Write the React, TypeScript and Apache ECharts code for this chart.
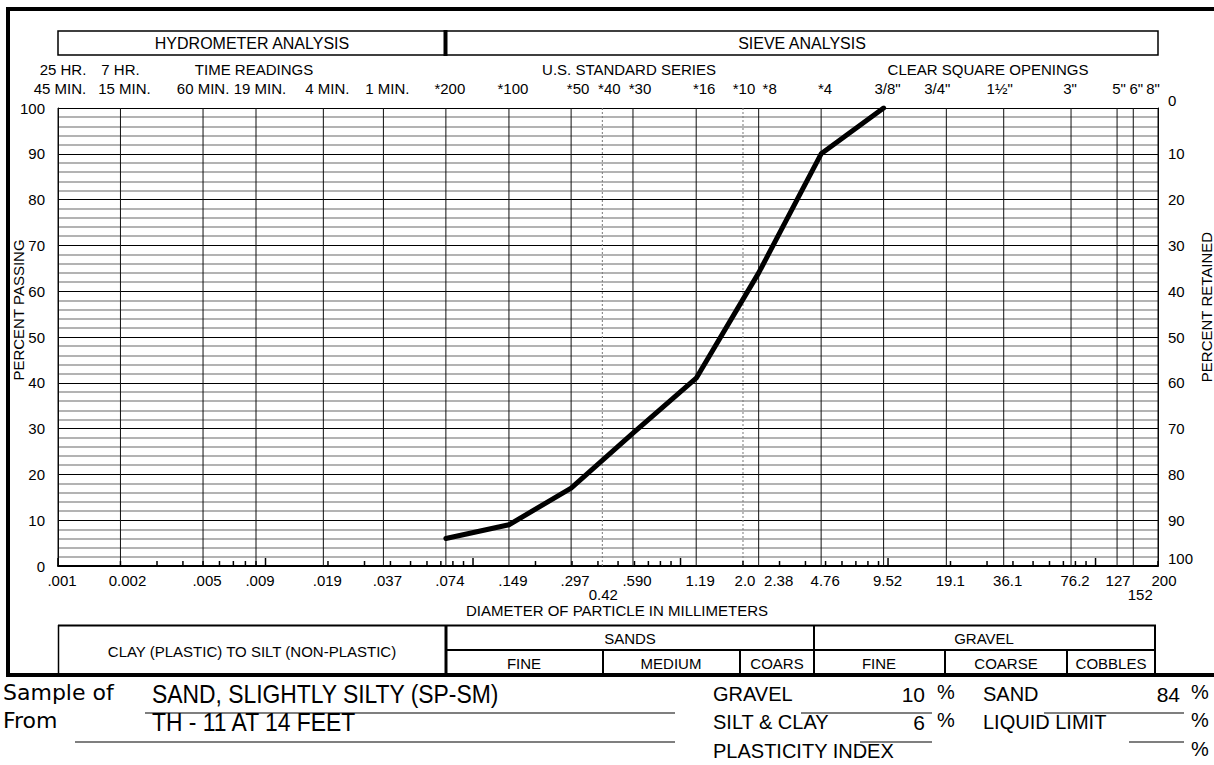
import React, { useEffect, useRef } from 'react';
import * as echarts from 'echarts';

// ---------------- data ----------------
const gridSizes = [0.001, 0.002, 0.005, 0.009, 0.019, 0.037, 0.074, 0.149, 0.297, 0.42, 0.59, 1.19, 2.0, 2.38, 4.76, 9.52, 19.1, 36.1, 76.2, 127, 152, 200];
const gridBottomLabels = ['.001', '0.002', '.005', '.009', '.019', '.037', '.074', '.149', '.297', '0.42', '.590', '1.19', '2.0', '2.38', '4.76', '9.52', '19.1', '36.1', '76.2', '127', '152', '200'];
const gridTopLabels = ['45 MIN.', '15 MIN.', '60 MIN.', '19 MIN.', '4 MIN.', '1 MIN.', '*200', '*100', '*50', '*40', '*30', '*16', '*10', '*8', '*4', '3/8"', '3/4"', '1½"', '3"', '5"', '6"', '8"'];
const gridUpperLabels = ['25 HR.', '7 HR.', '', '', '', '', '', '', '', '', '', '', '', '', '', '', '', '', '', '', '', ''];
const dashedSizes = [0.42, 2.0];

const diameters = [0.074, 0.149, 0.297, 0.59, 1.19, 2.38, 4.76, 9.52];
const percentPassing = [6, 9, 17, 29, 41, 64, 90, 100];

const sampleOfText = 'SAND, SLIGHTLY SILTY (SP-SM)';
const fromText = 'TH - 11 AT 14 FEET';
const gravelPct = '10';
const sandPct = '84';
const siltClayPct = '6';
const liquidLimitPct = '';
const plasticityIndexPct = '';

// minor tick positions along the log axis (1..9 per decade)
const axisTickValues: number[] = [];
for (let e = -3; e <= 2; e++) {
  for (let k = 1; k <= 9; k++) {
    const v = +(k * Math.pow(10, e)).toPrecision(3);
    if (v <= 200) axisTickValues.push(v);
  }
}

// ---------------- layout / style ----------------
const FONT = '"Liberation Sans", Arial, Helvetica, sans-serif';
const GEO = '"DejaVu Sans", "Noto Sans", sans-serif';
const bottomNudge: Record<string, [number, number]> = {
  '0.002': [7, 0], '2.38': [20, 0], '127': [1, 0], '0.42': [1, 14], '152': [7, 14], '2.0': [2, 0], '200': [6, 0],
};
const topNudge: Record<string, number> = {
  '45 MIN.': 2, '60 MIN.': 0, '*10': 1, '*8': 11, '3/4"': -9, '1½"': -4, '3"': -1, '8"': -5, '*50': 7, '*40': 7, '*30': 7, '*16': 8, '5"': 2, '6"': 3,
};
const upperNudge: Record<string, number> = { '25 HR.': 5, '7 HR.': 0 };

function txt(text: string, x: number, y: number, size: number, align = 'center', extra: any = {}, family = FONT) {
  return {
    type: 'text', x, y, ...extra,
    style: {
      text, fill: '#000', fontSize: size, fontFamily: family,
      align, verticalAlign: 'middle', textAlign: align, textVerticalAlign: 'middle',
    },
  };
}
function ln(x1: number, y1: number, x2: number, y2: number, w: number) {
  return { type: 'line', shape: { x1, y1, x2, y2 }, style: { stroke: '#000', lineWidth: w } };
}

export default function App() {
  const ref = useRef<HTMLDivElement>(null);
  useEffect(() => {
    if (!ref.current) return;
    const chart = echarts.init(ref.current, undefined, { renderer: 'svg' });

    const graphic: any[] = [
      // outer frame
      { type: 'rect', shape: { x: 8, y: 9, width: 1240, height: 666 }, style: { fill: 'none', stroke: '#000', lineWidth: 4 } },
      // header boxes
      { type: 'rect', shape: { x: 58, y: 31, width: 388, height: 24 }, style: { fill: 'none', stroke: '#000', lineWidth: 1.5 } },
      { type: 'rect', shape: { x: 446, y: 31, width: 712, height: 24 }, style: { fill: 'none', stroke: '#000', lineWidth: 1.5 } },
      ln(445.5, 30, 445.5, 56, 4),
      txt('HYDROMETER ANALYSIS', 252, 43, 16),
      txt('SIEVE ANALYSIS', 802, 43, 16),
      txt('TIME READINGS', 254, 69, 15),
      txt('U.S. STANDARD SERIES', 629, 69, 15),
      txt('CLEAR SQUARE OPENINGS', 988, 69, 15),
      // axis titles
      txt('PERCENT PASSING', 18, 310, 15, 'center', { rotation: Math.PI / 2 }),
      txt('PERCENT RETAINED', 1206, 307, 15, 'center', { rotation: Math.PI / 2 }),
      txt('DIAMETER OF PARTICLE IN MILLIMETERS', 617, 610, 15),
      // classification table
      ln(58, 625.5, 1156, 625.5, 2),
      ln(58.5, 625, 58.5, 675, 1.5),
      ln(446, 625, 446, 675, 3),
      ln(814, 625, 814, 675, 2),
      ln(1155, 625, 1155, 675, 2),
      ln(446, 650, 1155, 650, 2),
      ln(603, 650, 603, 675, 2),
      ln(740, 650, 740, 675, 2),
      ln(945, 650, 945, 675, 2),
      ln(1067, 650, 1067, 675, 2),
      txt('CLAY (PLASTIC) TO SILT (NON-PLASTIC)', 252, 651, 15),
      txt('SANDS', 630, 638, 15),
      txt('GRAVEL', 984, 638, 15),
      txt('FINE', 524, 663, 15),
      txt('MEDIUM', 671, 663, 15),
      txt('COARS', 777, 663, 15),
      txt('FINE', 879, 663, 15),
      txt('COARSE', 1006, 663, 15),
      txt('COBBLES', 1111, 663, 15),
      // footer
      txt('Sample of', 3, 692, 22, 'left', {}, GEO),
      txt('From', 3, 720, 22, 'left', {}, GEO),
      txt(sampleOfText, 152, 694, 26, 'left', { scaleX: 0.88 }),
      ln(145, 713, 675, 713, 1.2),
      txt(fromText, 152, 722, 26, 'left', { scaleX: 0.88 }),
      ln(75, 742, 675, 742, 1.2),
      txt('GRAVEL', 713, 694, 20, 'left'),
      ln(801, 713, 932, 713, 1.2),
      txt(gravelPct, 925, 694, 21, 'right'),
      txt('%', 937, 692, 20, 'left'),
      txt('SAND', 983, 694, 20, 'left'),
      ln(1044, 713, 1184, 713, 1.2),
      txt(sandPct, 1180, 694, 21, 'right'),
      txt('%', 1191, 692, 20, 'left'),
      txt('SILT & CLAY', 713, 722, 20, 'left'),
      ln(860, 742, 932, 742, 1.2),
      txt(siltClayPct, 925, 722, 21, 'right'),
      txt('%', 937, 720, 20, 'left'),
      txt('LIQUID LIMIT', 983, 722, 20, 'left'),
      ln(1129, 742, 1184, 742, 1.2),
      txt(liquidLimitPct, 1180, 722, 21, 'right'),
      txt('%', 1191, 720, 20, 'left'),
      txt('PLASTICITY INDEX', 713, 751, 20, 'left'),
      txt(plasticityIndexPct, 1180, 751, 21, 'right'),
      txt('%', 1191, 749, 20, 'left'),
    ];

    const option: any = {
      animation: false,
      backgroundColor: '#fff',
      textStyle: { fontFamily: FONT },
      grid: { left: 58, right: 56, top: 108, bottom: 199, containLabel: false },
      xAxis: {
        type: 'log', logBase: 10, min: 0.001, max: 200,
        axisLine: { show: true, onZero: false, lineStyle: { color: '#000', width: 2 } },
        axisTick: { show: false }, axisLabel: { show: false }, splitLine: { show: false }, minorTick: { show: false },
      },
      yAxis: [
        {
          type: 'value', min: 0, max: 100, interval: 10, position: 'left',
          axisLine: { show: true, lineStyle: { color: '#000', width: 1 } },
          axisTick: { show: false },
          axisLabel: { color: '#000', fontSize: 15, margin: 13, fontFamily: FONT },
          splitLine: { show: true, lineStyle: { color: '#000', width: 1 } },
          minorTick: { show: false, splitNumber: 5 },
          minorSplitLine: { show: true, lineStyle: { color: '#9a9a9a', width: 1.6 } },
        },
        {
          type: 'value', min: 0, max: 100, interval: 10, position: 'right', inverse: true,
          axisLine: { show: true, lineStyle: { color: '#000', width: 1 } },
          axisTick: { show: false },
          axisLabel: { color: '#000', fontSize: 15, margin: 10, fontFamily: FONT, verticalAlignMinLabel: 'bottom', verticalAlignMaxLabel: 'bottom' },
          splitLine: { show: false },
        },
      ],
      graphic,
      series: [
        {
          type: 'custom', name: 'sizes', z: 2, silent: true,
          data: gridSizes.map((s) => [s, 0]),
          renderItem: (params: any, api: any) => {
            const i = params.dataIndex;
            const x = api.value(0);
            const b = api.coord([x, 0]);
            const t = api.coord([x, 100]);
            const dashed = dashedSizes.indexOf(gridSizes[i]) >= 0;
            const bl = gridBottomLabels[i];
            const bn = bottomNudge[bl] || [4, 0];
            const tl = gridTopLabels[i];
            const tn = topNudge[tl] !== undefined ? topNudge[tl] : 4;
            const children: any[] = [
              {
                type: 'line', shape: { x1: b[0], y1: b[1], x2: t[0], y2: t[1] },
                style: { stroke: dashed ? '#777' : '#111', lineWidth: 1, lineDash: dashed ? [2, 2] : null },
              },
              txt(bl, b[0] + bn[0], b[1] + 14 + bn[1], 15),
              txt(tl, t[0] + tn, t[1] - 20, 15),
            ];
            const ul = gridUpperLabels[i];
            if (ul) children.push(txt(ul, t[0] + (upperNudge[ul] || 0), t[1] - 39, 15));
            return { type: 'group', children };
          },
        },
        {
          type: 'custom', name: 'ticks', z: 3, silent: true,
          data: axisTickValues.map((v) => [v, 0]),
          renderItem: (params: any, api: any) => {
            const v = api.value(0);
            const p = api.coord([v, 0]);
            const lg = Math.log10(v);
            const major = Math.abs(lg - Math.round(lg)) < 1e-6;
            return {
              type: 'line', shape: { x1: p[0], y1: p[1], x2: p[0], y2: p[1] - (major ? 8 : 5) },
              style: { stroke: '#000', lineWidth: 1.5 },
            };
          },
        },
        {
          type: 'line', name: 'passing', z: 10,
          data: diameters.map((d, i) => [d, percentPassing[i]]),
          symbol: 'none',
          lineStyle: { color: '#000', width: 5, join: 'round', cap: 'round' },
        },
      ],
    };
    chart.setOption(option);
    return () => chart.dispose();
  }, []);
  return <div ref={ref} style={{ position: 'fixed', left: 0, top: 0, width: 1214, height: 765, background: '#fff' }} />;
}
